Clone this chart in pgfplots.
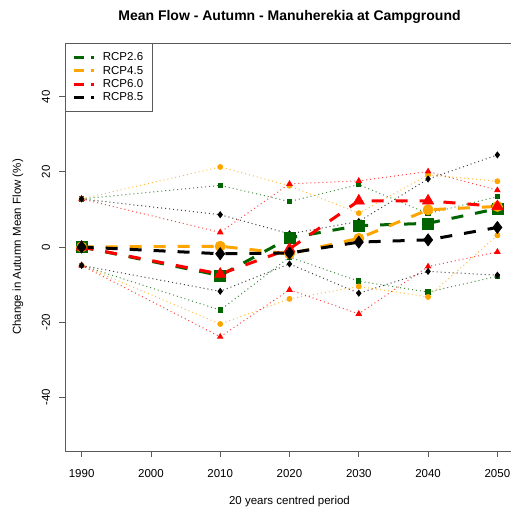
\documentclass[border=0pt]{standalone}
\usepackage{fontspec}
\setmainfont{Liberation Sans}
\usepackage{pgfplots}
\pgfplotsset{compat=1.18}
\usepackage{pgfplotstable}
\definecolor{rgreen}{RGB}{0,100,0}
\definecolor{rorange}{RGB}{255,165,0}
\definecolor{rred}{RGB}{255,0,0}
\definecolor{rblack}{RGB}{0,0,0}
\definecolor{axgray}{RGB}{90,90,90}

% x lo mean hi
\pgfplotstableread{
x lo mean hi
1990 -4.9 0 12.8
2010 -16.8 -7.6 16.4
2020 -2.7 2.4 12.1
2030 -9.1 5.7 16.6
2040 -12.0 6.3 8.9
2050 -7.8 10.2 13.4
}\rcpA
\pgfplotstableread{
x lo mean hi
1990 -4.9 0 12.8
2010 -20.5 0.2 21.3
2020 -13.8 -1.8 16.3
2030 -10.5 2.3 9.0
2040 -13.3 9.9 19.2
2050 3.1 10.8 17.5
}\rcpB
\pgfplotstableread{
x lo mean hi
1990 -4.9 0 12.8
2010 -23.9 -7.2 3.9
2020 -11.4 -0.5 16.8
2030 -17.8 12.3 17.6
2040 -5.2 12.3 20.1
2050 -1.3 10.8 15.1
}\rcpC
\pgfplotstableread{
x lo mean hi
1990 -4.9 0 12.8
2010 -11.8 -1.8 8.6
2020 -4.5 -1.6 3.5
2030 -12.3 1.3 6.8
2040 -6.5 1.9 18.1
2050 -7.5 5.2 24.5
}\rcpD

\pgfplotsset{
  dotline/.style={#1, line width=1bp, dash pattern=on 1bp off 3bp, draw opacity=0.75, forget plot},
  meanline/.style={#1, line width=3bp, dash pattern=on 12bp off 12bp, forget plot},
}

\begin{document}
\fontsize{11.5bp}{13bp}\selectfont
\begin{tikzpicture}[x=1bp,y=1bp]
\begin{axis}[
  at={(65bp,60bp)}, anchor=south west,
  scale only axis, width=449bp, height=408bp,
  xmin=1987.6, xmax=2052.4, ymin=-54.3, ymax=54.3,
  xtick={1990,2000,...,2050}, ytick={-40,-20,0,20,40},
  xtick pos=left, ytick pos=left,
  tick align=outside, major tick length=6bp,
  every tick/.style={axgray, line width=0.8bp},
  axis line style={axgray, line width=0.8bp},
  /pgf/number format/assume math mode=true,
  /pgf/number format/1000 sep={},
  tick label style={font=\fontsize{11.5bp}{13bp}\selectfont},
  xticklabel style={yshift=-8bp},
  yticklabel style={rotate=90, anchor=south, yshift=5bp},
  title={\bfseries Mean Flow - Autumn - Manuherekia at Campground},
  title style={at={(axis description cs:0.5,1)}, anchor=center, yshift=20bp, font=\fontsize{14bp}{16bp}\selectfont},
  xlabel={20 years centred period},
  xlabel style={at={(axis description cs:0.5,0)}, anchor=center, yshift=-51bp, font=\fontsize{11.5bp}{13bp}\selectfont},
  ylabel={Change in Autumn Mean Flow (\%)},
  ylabel style={at={(axis description cs:0,0.5)}, anchor=center, yshift=47bp, font=\fontsize{11.5bp}{13bp}\selectfont},
  legend style={at={(0,1)}, anchor=north west, draw=axgray, line width=0.8bp, font=\fontsize{11.5bp}{13bp}\selectfont, inner xsep=7bp, inner ysep=7.5bp, row sep=-0.5bp},
  legend cell align=left,
  legend image code/.code={\draw[#1, line width=3bp, dash pattern=on 10bp off 7bp] (0bp,0bp) -- (20bp,0bp); \path[draw=none, fill=none] (0bp,0bp) -- (27bp,0bp);},
]
% dotted ranges
\addplot[dotline=rgreen, mark=square*, mark size=2.2bp, mark options={solid, draw opacity=1}] table[x=x,y=hi]{\rcpA};
\addplot[dotline=rgreen, mark=square*, mark size=2.2bp, mark options={solid, draw opacity=1}] table[x=x,y=lo]{\rcpA};
\addplot[dotline=rorange, mark=*, mark size=2.4bp, mark options={solid, draw opacity=1}] table[x=x,y=hi]{\rcpB};
\addplot[dotline=rorange, mark=*, mark size=2.4bp, mark options={solid, draw opacity=1}] table[x=x,y=lo]{\rcpB};
\addplot[dotline=rred, mark=triangle*, mark size=2.9bp, mark options={solid, draw opacity=1}] table[x=x,y=hi]{\rcpC};
\addplot[dotline=rred, mark=triangle*, mark size=2.9bp, mark options={solid, draw opacity=1}] table[x=x,y=lo]{\rcpC};
\addplot[dotline=rblack, mark=diamond*, mark size=2.8bp, mark options={solid, draw opacity=1}] table[x=x,y=hi]{\rcpD};
\addplot[dotline=rblack, mark=diamond*, mark size=2.8bp, mark options={solid, draw opacity=1}] table[x=x,y=lo]{\rcpD};
% means
\addplot[meanline=rgreen, mark=square*, mark size=5.5bp, mark options={solid, line width=0.5bp}] table[x=x,y=mean]{\rcpA};
\addplot[meanline=rorange, mark=*, mark size=5.2bp, mark options={solid, line width=0.5bp}] table[x=x,y=mean]{\rcpB};
\addplot[meanline=rred, mark=triangle*, mark size=6.5bp, mark options={solid, line width=0.5bp}] table[x=x,y=mean]{\rcpC};
\addplot[meanline=rblack, mark=diamond*, mark size=6.2bp, mark options={solid, line width=0.5bp}] table[x=x,y=mean]{\rcpD};
\addlegendimage{rgreen}\addlegendentry{RCP2.6}
\addlegendimage{rorange}\addlegendentry{RCP4.5}
\addlegendimage{rred}\addlegendentry{RCP6.0}
\addlegendimage{rblack}\addlegendentry{RCP8.5}
\end{axis}
\pgfresetboundingbox
\path (0,0) rectangle (511bp,511bp);
\end{tikzpicture}
\end{document}
